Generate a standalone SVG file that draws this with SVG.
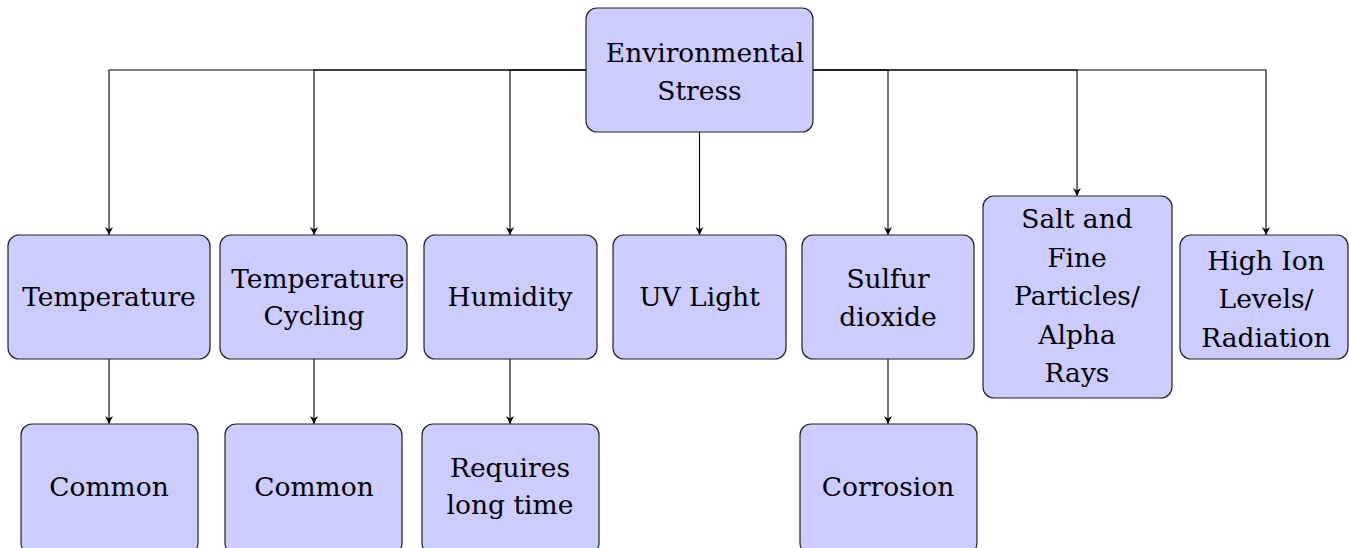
<svg xmlns="http://www.w3.org/2000/svg" width="1349" height="548" viewBox="0 0 1349 548">
  <defs>
    <marker id="arrow" viewBox="0 0 10 10" refX="10" refY="5" markerWidth="8" markerHeight="8" markerUnits="userSpaceOnUse" orient="auto">
      <path d="M0,0 L10,5 L0,10 L3,5 Z" fill="#000"/>
    </marker>
  </defs>
  <style>
    .box { fill: #ccccff; stroke: #222; stroke-width: 1.2; }
    .lbl { font-family: "DejaVu Serif", "Liberation Serif", serif; font-size: 26.5px; fill: #000; text-anchor: middle; }
    .edge { fill: none; stroke: #000; stroke-width: 1.1; marker-end: url(#arrow); }
  </style>
  <rect width="1349" height="548" fill="#fff"/>

  <!-- tree edges: root fans out along y=70, children drop to their effects -->
  <g id="connectors">
    <path class="edge" d="M586,70 H109 V235"/>
    <path class="edge" d="M586,70 H314 V235"/>
    <path class="edge" d="M586,70 H510 V235"/>
    <path class="edge" d="M699.5,132 V235"/>
    <path class="edge" d="M813,70 H888 V235"/>
    <path class="edge" d="M813,70 H1077 V196"/>
    <path class="edge" d="M813,70 H1266 V235"/>
    <path class="edge" d="M109,359 V424"/>
    <path class="edge" d="M314,359 V424"/>
    <path class="edge" d="M510,359 V424"/>
    <path class="edge" d="M888,359 V424"/>
  </g>

  <g id="root">
    <rect class="box" x="586" y="8" width="227" height="124" rx="11"/>
    <text class="lbl" x="705" y="62">Environmental</text>
    <text class="lbl" x="699.5" y="100">Stress</text>
  </g>

  <g id="temperature">
    <rect class="box" x="8" y="235" width="202" height="124" rx="11"/>
    <text class="lbl" x="109" y="306">Temperature</text>
  </g>
  <g id="temperature-cycling">
    <rect class="box" x="220" y="235" width="187" height="124" rx="11"/>
    <text class="lbl" x="318" y="288">Temperature</text>
    <text class="lbl" x="314" y="325">Cycling</text>
  </g>
  <g id="humidity">
    <rect class="box" x="424" y="235" width="173" height="124" rx="11"/>
    <text class="lbl" x="510" y="306">Humidity</text>
  </g>
  <g id="uv-light">
    <rect class="box" x="613" y="235" width="173" height="124" rx="11"/>
    <text class="lbl" x="699.5" y="306">UV Light</text>
  </g>
  <g id="sulfur-dioxide">
    <rect class="box" x="802" y="235" width="172" height="124" rx="11"/>
    <text class="lbl" x="888" y="288">Sulfur</text>
    <text class="lbl" x="888" y="326">dioxide</text>
  </g>
  <g id="salt">
    <rect class="box" x="983" y="196" width="189" height="202" rx="11"/>
    <text class="lbl" x="1077" y="228">Salt and</text>
    <text class="lbl" x="1077" y="267">Fine</text>
    <text class="lbl" x="1077" y="305">Particles/</text>
    <text class="lbl" x="1077" y="344">Alpha</text>
    <text class="lbl" x="1077" y="382">Rays</text>
  </g>
  <g id="high-ion">
    <rect class="box" x="1180" y="235" width="168" height="124" rx="11"/>
    <text class="lbl" x="1266" y="270">High Ion</text>
    <text class="lbl" x="1266" y="308">Levels/</text>
    <text class="lbl" x="1266" y="347">Radiation</text>
  </g>

  <g id="temperature-effect">
    <rect class="box" x="21" y="424" width="177" height="130" rx="11"/>
    <text class="lbl" x="109" y="496">Common</text>
  </g>
  <g id="cycling-effect">
    <rect class="box" x="225" y="424" width="177" height="130" rx="11"/>
    <text class="lbl" x="314" y="496">Common</text>
  </g>
  <g id="humidity-effect">
    <rect class="box" x="422" y="424" width="177" height="130" rx="11"/>
    <text class="lbl" x="510" y="477">Requires</text>
    <text class="lbl" x="510" y="514">long time</text>
  </g>
  <g id="sulfur-effect">
    <rect class="box" x="800" y="424" width="177" height="130" rx="11"/>
    <text class="lbl" x="888" y="496">Corrosion</text>
  </g>
</svg>
